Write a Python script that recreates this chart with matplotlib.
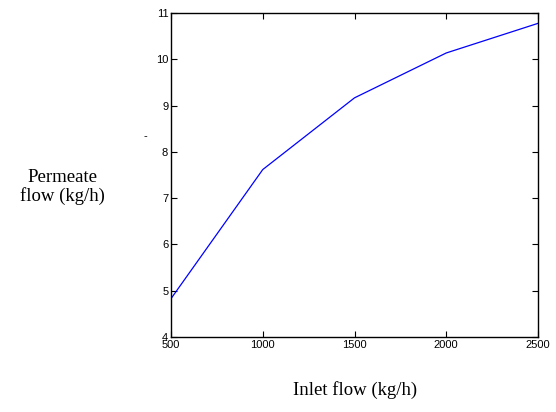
import matplotlib
matplotlib.use("Agg")
import matplotlib.pyplot as plt

inlet_flow = [500, 1000, 1500, 2000, 2500]
permeate_flow = [4.83, 7.62, 9.17, 10.14, 10.78]
x_ticks = [500, 1000, 1500, 2000, 2500]
y_ticks = [4, 5, 6, 7, 8, 9, 10, 11]

fig = plt.figure(figsize=(5.56, 4.12), dpi=100)
ax = fig.add_axes([0.3076, 0.182, 0.66, 0.786])

ax.plot(inlet_flow, permeate_flow, color='#0000ff', linewidth=0.9)

ax.set_xlim(500, 2500)
ax.set_ylim(4, 11)
ax.set_xticks(x_ticks)
ax.set_yticks(y_ticks)
ax.tick_params(direction='in', top=True, right=True, length=4, width=0.8,
               labelsize=8, pad=2)
for lbl in ax.get_xticklabels() + ax.get_yticklabels():
    lbl.set_fontfamily('Liberation Sans')
for sp in ax.spines.values():
    sp.set_linewidth(1.0)

# axis labels in serif, placed like the original figure
fig.text(0.112, 0.546, 'Permeate\nflow (kg/h)', ha='center', va='center',
         fontsize=13.5, family='Liberation Serif', linespacing=1.05)
fig.text(0.639, 0.053, 'Inlet flow (kg/h)', ha='center', va='center',
         fontsize=13.5, family='Liberation Serif')
fig.text(0.261, 0.67, '-', ha='center', va='center', fontsize=8,
         family='Liberation Sans')

fig.savefig('out.png', dpi=100)
